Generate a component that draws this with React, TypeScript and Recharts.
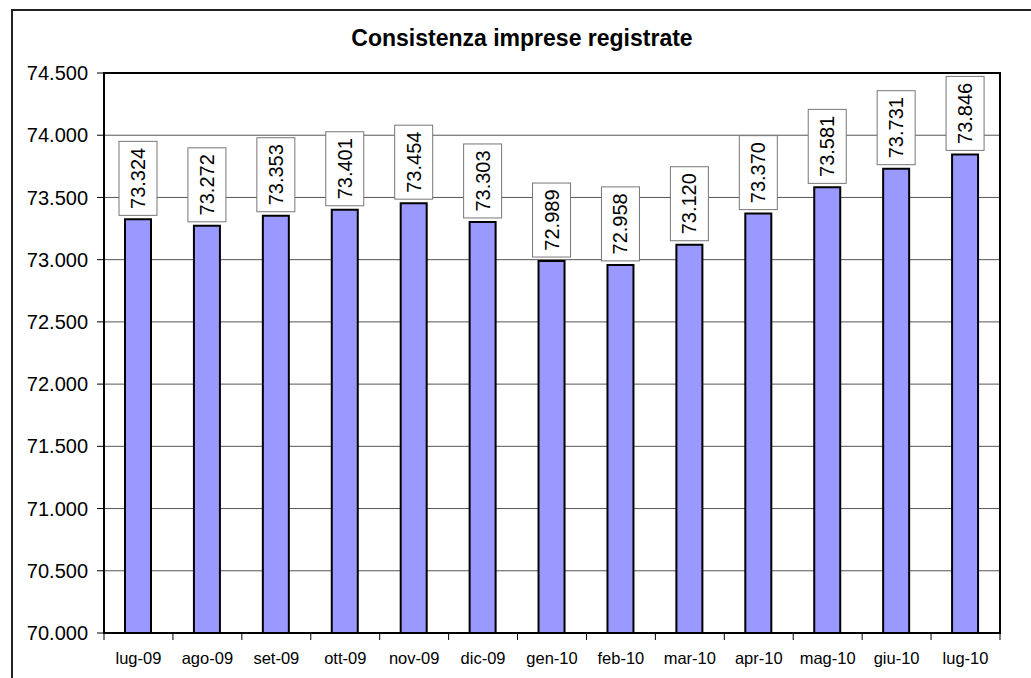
import React from 'react';
import {
  Bar,
  BarChart,
  CartesianGrid,
  LabelList,
  ReferenceArea,
  XAxis,
  YAxis,
} from 'recharts';

const months = [
  'lug-09', 'ago-09', 'set-09', 'ott-09', 'nov-09', 'dic-09', 'gen-10',
  'feb-10', 'mar-10', 'apr-10', 'mag-10', 'giu-10', 'lug-10',
];
const imprese = [
  73324, 73272, 73353, 73401, 73454, 73303, 72989,
  72958, 73120, 73370, 73581, 73731, 73846,
];
const yTicks = [70000, 70500, 71000, 71500, 72000, 72500, 73000, 73500, 74000, 74500];

const font = 'Arial, "Liberation Sans", sans-serif';
const plotLeft = 104;
const plotRight = 31;
const chartW = 1031;
const band = (chartW - plotLeft - plotRight) / months.length;

const fmt = (v: number) => (v / 1000).toFixed(3);

function MonthTick(props: any) {
  const { x, y, payload, index } = props;
  return (
    <g>
      <line x1={x - band / 2} y1={y} x2={x - band / 2} y2={y + 7} stroke="#000" />
      {index === months.length - 1 && (
        <line x1={x + band / 2} y1={y} x2={x + band / 2} y2={y + 7} stroke="#000" />
      )}
      <text x={x} y={y + 31} textAnchor="middle" fontSize={16.5} fontFamily={font} fill="#000">
        {payload.value}
      </text>
    </g>
  );
}

function ValueBox(props: any) {
  const { x, y, width, value } = props;
  const cx = x + width / 2;
  const boxH = 74;
  const boxW = 38;
  const top = y - 4 - boxH;
  const cy = top + boxH / 2;
  return (
    <g>
      <rect x={cx - boxW / 2} y={top} width={boxW} height={boxH} fill="#fff" stroke="#777" strokeWidth={1} />
      <text
        x={cx}
        y={cy}
        transform={`rotate(-90 ${cx} ${cy})`}
        textAnchor="middle"
        dominantBaseline="central"
        fontSize={20}
        fontFamily={font}
        fill="#000"
      >
        {fmt(value)}
      </text>
    </g>
  );
}

export default function App() {
  const data = months.map((m, i) => ({ month: m, value: imprese[i] }));

  return (
    <div style={{ position: 'absolute', left: 0, top: 0, width: 1031, height: 678, overflow: 'hidden', background: '#fff' }}>
      <div
        style={{
          position: 'absolute',
          left: 11,
          top: 9,
          width: 1100,
          height: 800,
          border: '2px solid #222',
        }}
      />
      <div
        style={{
          position: 'absolute',
          left: 12,
          top: 25,
          width: 1020,
          textAlign: 'center',
          fontFamily: font,
          fontWeight: 'bold',
          fontSize: 23,
          lineHeight: '26px',
        }}
      >
        Consistenza imprese registrate
      </div>
      <div style={{ position: 'absolute', left: 0, top: 0 }}>
        <BarChart
          width={chartW}
          height={678}
          data={data}
          margin={{ top: 73, right: plotRight, left: 0, bottom: 0 }}
          barSize={26}
        >
          <CartesianGrid vertical={false} stroke="#555" />
          <XAxis
            dataKey="month"
            height={45}
            axisLine={false}
            tickLine={false}
            tickSize={0}
            tickMargin={0}
            interval={0}
            tick={<MonthTick />}
          />
          <YAxis
            width={plotLeft}
            domain={[70000, 74500]}
            ticks={yTicks}
            interval={0}
            axisLine={false}
            tickSize={7}
            tickMargin={9}
            tickLine={{ stroke: '#000' }}
            tickFormatter={fmt}
            tick={{ fill: '#000', fontSize: 20, fontFamily: font }}
          />
          <ReferenceArea y1={70000} y2={74500} fill="none" stroke="#000" strokeWidth={2} />
          <Bar dataKey="value" fill="#9999FF" stroke="#000" strokeWidth={2} isAnimationActive={false}>
            <LabelList dataKey="value" content={<ValueBox />} />
          </Bar>
        </BarChart>
      </div>
    </div>
  );
}
